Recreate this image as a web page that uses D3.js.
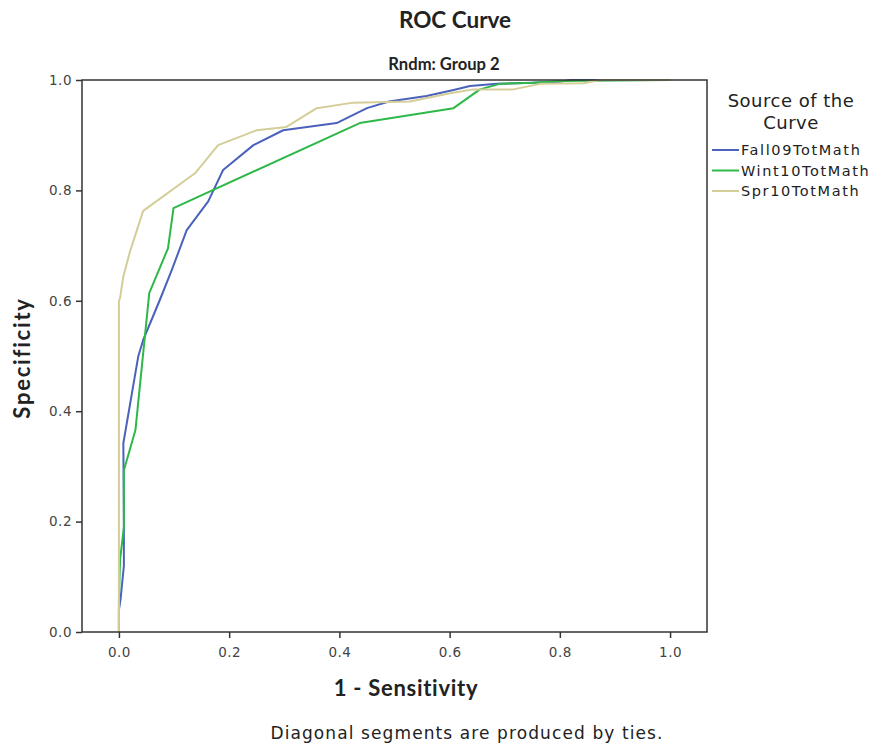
<!DOCTYPE html>
<html>
<head>
<meta charset="utf-8">
<script src="https://cdn.jsdelivr.net/npm/d3@7"></script>
<style>
  body { margin: 0; background: #fff; }
  svg { display: block; }
</style>
</head>
<body>
<svg id="roc-chart" width="874" height="749"></svg>
<script>
// ROC curve points, [1 - sensitivity, specificity]
const fall09 = [
  [0, 0], [0, 0.04], [0.003, 0.06], [0.009, 0.12], [0.009, 0.2], [0.008, 0.342],
  [0.035, 0.499], [0.044, 0.529], [0.074, 0.601], [0.096, 0.656], [0.123, 0.728],
  [0.162, 0.78], [0.189, 0.837], [0.244, 0.882], [0.298, 0.909], [0.395, 0.922],
  [0.45, 0.949], [0.49, 0.961], [0.558, 0.971], [0.607, 0.982], [0.637, 0.989],
  [0.686, 0.993], [0.751, 0.995], [0.8, 0.997], [0.82, 1], [1, 1]
];
const wint10 = [
  [0, 0], [0, 0.06], [0.002, 0.13], [0.009, 0.19], [0.009, 0.293], [0.03, 0.366],
  [0.055, 0.614], [0.089, 0.695], [0.099, 0.768], [0.437, 0.922], [0.607, 0.949],
  [0.655, 0.983], [0.691, 0.993], [0.751, 0.995], [0.8, 0.998], [1, 1]
];
const spr10 = [
  [0, 0], [0, 0.6], [0.002, 0.605], [0.008, 0.644], [0.02, 0.689], [0.044, 0.763],
  [0.138, 0.831], [0.18, 0.882], [0.25, 0.909], [0.304, 0.915], [0.359, 0.949],
  [0.425, 0.959], [0.528, 0.961], [0.601, 0.976], [0.643, 0.983], [0.716, 0.983],
  [0.764, 0.993], [0.843, 0.994], [0.873, 1], [1, 1]
];
const seriesNames = ["Fall09TotMath", "Wint10TotMath", "Spr10TotMath"];
const seriesColors = ["#4a62bb", "#2eb848", "#d3ce97"];
const tickValues = [0, 0.2, 0.4, 0.6, 0.8, 1.0];

(function() {
  const INK = "#222";
  const FRAME = "#333";
  const svg = d3.select("#roc-chart");

  const left = 82, right = 707, top = 80, bottom = 632;

  const x = d3.scaleLinear().domain([-0.067, 1.067]).range([left, right]);
  const y = d3.scaleLinear().domain([0, 1]).range([bottom, top]);

  // Titles
  svg.append("text")
    .attr("x", 455).attr("y", 28)
    .attr("text-anchor", "middle")
    .attr("font-family", "Lato, sans-serif")
    .attr("font-weight", 700)
    .attr("font-size", 22.5)
    .attr("fill", INK)
    .text("ROC Curve");

  svg.append("text")
    .attr("x", 444).attr("y", 70)
    .attr("text-anchor", "middle")
    .attr("font-family", "Lato, sans-serif")
    .attr("font-weight", 700)
    .attr("font-size", 16.6)
    .attr("fill", INK)
    .text("Rndm: Group 2");

  // Axes
  const xAxis = svg.append("g")
    .attr("transform", `translate(0,${bottom})`)
    .call(d3.axisBottom(x).tickValues(tickValues).tickFormat(d3.format(".1f")).tickSize(6).tickSizeOuter(0));
  const yAxis = svg.append("g")
    .attr("transform", `translate(${left},0)`)
    .call(d3.axisLeft(y).tickValues(tickValues).tickFormat(d3.format(".1f")).tickSize(6).tickSizeOuter(0));

  [xAxis, yAxis].forEach(a => {
    a.select(".domain").remove();
    a.selectAll(".tick line").attr("stroke", FRAME).attr("stroke-width", 1.5);
    a.selectAll(".tick text")
      .attr("font-family", "DejaVu Sans, sans-serif")
      .attr("font-size", 13.5)
      .attr("letter-spacing", 0.5)
      .attr("fill", "#444");
  });
  xAxis.selectAll(".tick text").attr("dy", "1.2em");
  yAxis.selectAll(".tick text").attr("x", -10);

  // Curves
  const line = d3.line().x(d => x(d[0])).y(d => y(d[1]));
  [fall09, wint10, spr10].forEach((pts, i) => {
    svg.append("path")
      .datum(pts)
      .attr("fill", "none")
      .attr("stroke", seriesColors[i])
      .attr("stroke-width", 2)
      .attr("stroke-linejoin", "round")
      .attr("d", line);
  });

  // Frame
  svg.append("rect")
    .attr("x", left).attr("y", top)
    .attr("width", right - left).attr("height", bottom - top)
    .attr("fill", "none")
    .attr("stroke", FRAME)
    .attr("stroke-width", 1.5);

  // Axis labels
  svg.append("text")
    .attr("x", 406).attr("y", 696)
    .attr("text-anchor", "middle")
    .attr("font-family", "Lato, sans-serif")
    .attr("font-weight", 700)
    .attr("font-size", 22)
    .attr("letter-spacing", 0.7)
    .attr("fill", INK)
    .text("1 - Sensitivity");

  svg.append("text")
    .attr("transform", `translate(30,358) rotate(-90)`)
    .attr("text-anchor", "middle")
    .attr("font-family", "Lato, sans-serif")
    .attr("font-weight", 700)
    .attr("font-size", 22)
    .attr("letter-spacing", 1.8)
    .attr("fill", INK)
    .text("Specificity");

  // Footnote
  svg.append("text")
    .attr("x", 467).attr("y", 739)
    .attr("text-anchor", "middle")
    .attr("font-family", "DejaVu Sans, sans-serif")
    .attr("font-size", 17)
    .attr("letter-spacing", 1.1)
    .attr("fill", INK)
    .text("Diagonal segments are produced by ties.");

  // Legend
  const legend = svg.append("g");
  ["Source of the", "Curve"].forEach((t, i) => {
    legend.append("text")
      .attr("x", 791).attr("y", 107 + i * 22)
      .attr("text-anchor", "middle")
      .attr("font-family", "DejaVu Sans, sans-serif")
      .attr("font-size", 18)
      .attr("letter-spacing", 0.5)
      .attr("fill", INK)
      .text(t);
  });
  seriesNames.forEach((name, i) => {
    const ly = 150 + i * 20.5;
    legend.append("line")
      .attr("x1", 712).attr("x2", 739)
      .attr("y1", ly).attr("y2", ly)
      .attr("stroke", seriesColors[i])
      .attr("stroke-width", 2);
    legend.append("text")
      .attr("x", 741).attr("y", ly + 5)
      .attr("font-family", "DejaVu Sans, sans-serif")
      .attr("font-size", 14.5)
      .attr("letter-spacing", 1.6)
      .attr("fill", INK)
      .text(name);
  });
})();
</script>
</body>
</html>
